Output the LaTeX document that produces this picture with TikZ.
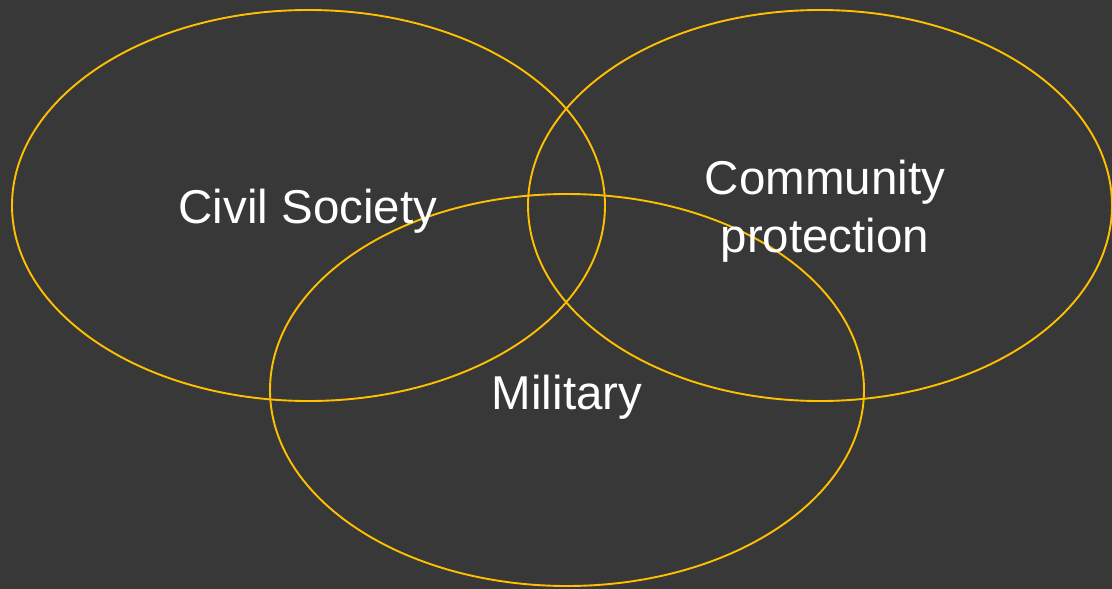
\documentclass[tikz,border=0pt]{standalone}
\usepackage{fontspec}
\setmainfont{Liberation Sans}
\usepackage{tikz}
\definecolor{bgdark}{HTML}{383838}
\definecolor{ringgold}{HTML}{FFC000}
\tikzset{ring/.style={draw=ringgold, line width=1.9pt},
  label/.style={text=white, font=\fontsize{47.5}{58.5}\selectfont, align=center, inner sep=0pt}}
\begin{document}
\begin{tikzpicture}[x=1pt,y=-1pt]
\fill [bgdark] (0,0) rectangle (1112,589);
\useasboundingbox (0,0) rectangle (1112,589);
\draw [ring] (308.5,205.5) ellipse [x radius=296.5, y radius=195.5];
\draw [ring] (820,205.5) ellipse [x radius=292, y radius=195.5];
\draw [ring] (567,390) ellipse [x radius=297, y radius=196];
\node [label] (civil) at (308,211) {Civil Society};
\node [label] (community) at (825,211) {Community\\protection};
\node [label] (military) at (567,397) {Military};
\end{tikzpicture}
\end{document}
